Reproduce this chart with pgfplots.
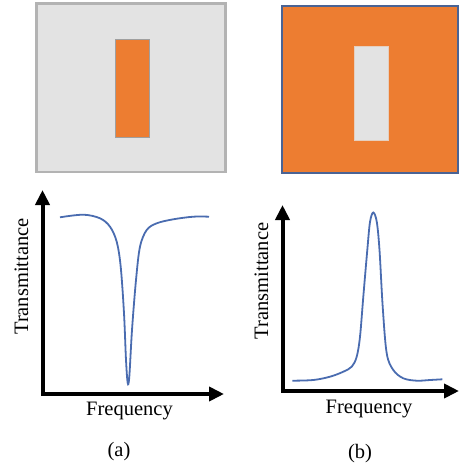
\documentclass[border=0pt]{standalone}
\usepackage{pgfplots}
\pgfplotsset{compat=1.18}
\usepackage{fontspec}
\setmainfont{Liberation Serif}
\usetikzlibrary{arrows.meta}
\definecolor{cgray}{HTML}{E3E3E3}
\definecolor{cgrayedge}{HTML}{B3B3B3}
\definecolor{corange}{HTML}{ED7D31}
\definecolor{cblueedge}{HTML}{4A6394}
\definecolor{ccurve}{HTML}{4A6CB0}
\begin{document}
\begin{tikzpicture}
\begin{axis}[
  scale only axis, width=459pt, height=468pt,
  xmin=0, xmax=459, ymin=0, ymax=468,
  y dir=reverse, hide axis, clip=false,
  every axis plot/.append style={line join=miter},
]
% frame of the whole figure
\addplot[draw=none] coordinates {(0,0)(459,468)};
% (a) unit cell: dielectric square with a metal slot
\addplot[fill=cgray, draw=cgrayedge, line width=2.5pt] coordinates {(36.5,3.5)(225.5,3.5)(225.5,172)(36.5,172)} -- cycle;
\addplot[fill=corange, draw=gray!75, line width=1.8pt] coordinates {(115.5,39.5)(149.5,39.5)(149.5,137.5)(115.5,137.5)} -- cycle;
% (b) complementary cell: metal square with an aperture
\addplot[fill=corange, draw=cblueedge, line width=2pt] coordinates {(282,6)(458,6)(458,173)(282,173)} -- cycle;
\addplot[fill=cgray, draw=cgray!80!corange, line width=0.6pt] coordinates {(354.5,46)(388,46)(388,140.5)(354.5,140.5)} -- cycle;
% axes arrows
\addplot[line width=4pt, {Triangle[length=15pt,width=14pt]}-{Triangle[length=15pt,width=14pt]}] coordinates {(42.5,190)(42.5,394)(224,394)};
\addplot[line width=4pt, {Triangle[length=15pt,width=14pt]}-{Triangle[length=15pt,width=14pt]}] coordinates {(282.5,205)(282.5,391)(459,391)};
% (a) band-stop response
\addplot[ccurve, line width=1.8pt, smooth, tension=0.55] coordinates {
(60,217.3)(83.3,214.7)(100,218.3)(110,226.7)(116.7,241.7)(120.7,266.7)(124,313.3)
(126,360)(127.7,383)(129.3,376.7)(132,330)(136,280)(140,246.7)(146.7,230)
(156.7,223.3)(173.3,219.3)(193.3,216.7)(209,216.7)};
% (b) band-pass response
\addplot[ccurve, line width=1.8pt, smooth, tension=0.55] coordinates {
(292.3,380.7)(313.3,380)(330,376.7)(343.3,371.7)(351.7,366.7)(356.7,356.7)(360,336.7)
(363.3,296.7)(367.3,250)(370,222)(373.3,212.5)(376.8,222)(379.5,250)
(382.7,306.7)(386.7,353.3)(393.3,370)(403.3,378.3)(416.7,380.7)(430,380)(442.3,379.3)};
% labels
\node[rotate=90, font=\fontsize{20.5}{24}\selectfont] at (axis cs:21.5,276.5) {Transmittance};
\node[rotate=90, font=\fontsize{20.5}{24}\selectfont] at (axis cs:261.5,281) {Transmittance};
\node[font=\fontsize{20.5}{24}\selectfont] at (axis cs:129.5,411) {Frequency};
\node[font=\fontsize{20.5}{24}\selectfont] at (axis cs:369,408.5) {Frequency};
\node[font=\fontsize{20.5}{24}\selectfont] at (axis cs:119,452) {(a)};
\node[font=\fontsize{20.5}{24}\selectfont] at (axis cs:360,454) {(b)};
\end{axis}
\end{tikzpicture}
\end{document}
